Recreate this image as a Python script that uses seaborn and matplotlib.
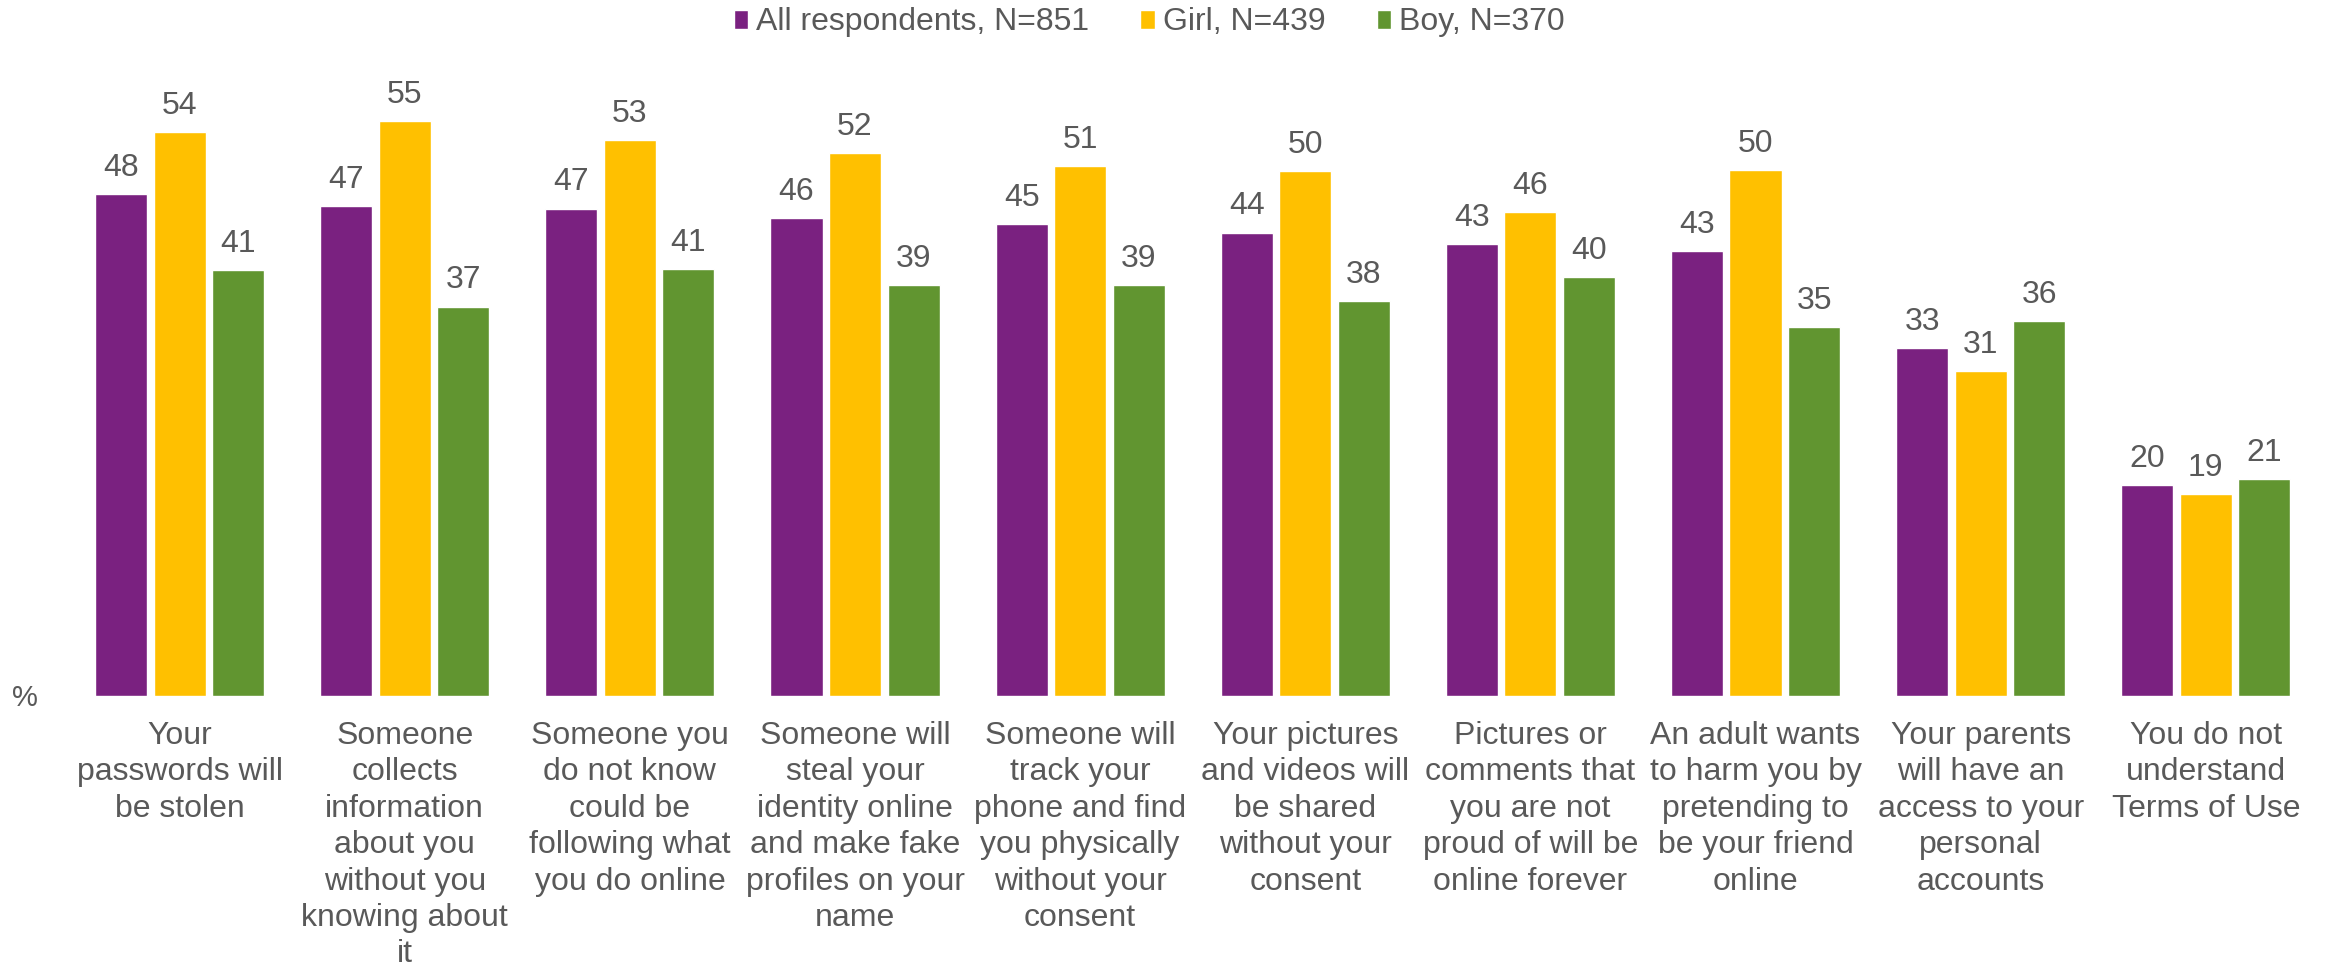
import matplotlib
matplotlib.use("Agg")
import matplotlib.pyplot as plt
import seaborn as sns
import pandas as pd

categories = [
    "Your\npasswords will\nbe stolen",
    "Someone\ncollects\ninformation\nabout you\nwithout you\nknowing about\nit",
    "Someone you\ndo not know\ncould be\nfollowing what\nyou do online",
    "Someone will\nsteal your\nidentity online\nand make fake\nprofiles on your\nname",
    "Someone will\ntrack your\nphone and find\nyou physically\nwithout your\nconsent",
    "Your pictures\nand videos will\nbe shared\nwithout your\nconsent",
    "Pictures or\ncomments that\nyou are not\nproud of will be\nonline forever",
    "An adult wants\nto harm you by\npretending to\nbe your friend\nonline",
    "Your parents\nwill have an\naccess to your\npersonal\naccounts",
    "You do not\nunderstand\nTerms of Use",
]
series_names = ["All respondents, N=851", "Girl, N=439", "Boy, N=370"]
all_resp = [48.1, 46.9, 46.7, 45.8, 45.2, 44.4, 43.3, 42.6, 33.3, 20.2]
girl = [54.0, 55.1, 53.3, 52.0, 50.8, 50.3, 46.4, 50.4, 31.1, 19.3]
boy = [40.8, 37.3, 40.9, 39.4, 39.4, 37.8, 40.1, 35.3, 35.9, 20.8]
colors = ["#7A2180", "#FFC000", "#619530"]
text_color = "#595959"

sns.set_theme(style="white")
plt.rcParams['font.family'] = ['Liberation Sans', 'DejaVu Sans']

df = pd.DataFrame({
    "category": categories * 3,
    "series": [series_names[0]] * 10 + [series_names[1]] * 10 + [series_names[2]] * 10,
    "value": all_resp + girl + boy,
})

fig = plt.figure(figsize=(23.3, 9.69), dpi=100)
ax = fig.add_axes([0.0288, 0.282, 0.9662, 0.646])
sns.barplot(data=df, x="category", y="value", hue="series", hue_order=series_names,
            palette=colors, width=0.78, gap=0.11, ax=ax, errorbar=None,
            saturation=1, order=categories)

for c in ax.containers:
    ax.bar_label(c, fmt="%.0f", padding=8, fontsize=23, color=text_color)

ax.set_ylim(0, 60)
ax.set_xlim(-0.5, 9.5)
ax.set_yticks([])
ax.set_xlabel("")
ax.set_ylabel("")
for s in ax.spines.values():
    s.set_visible(False)
ax.set_xticks(range(len(categories)))
ax.set_xticklabels(categories, fontsize=23, color=text_color, linespacing=1.28)
ax.tick_params(axis="x", length=0, pad=18)

sns.move_legend(ax, "upper center", bbox_to_anchor=(0.4932, 1.022),
                bbox_transform=fig.transFigure, ncol=3, frameon=False, title=None,
                fontsize=23, labelcolor=text_color, handlelength=0.45,
                handleheight=0.55, handletextpad=0.25, columnspacing=1.6)

fig.text(25 / 2330, 1 - 698 / 969, "%", ha="center", va="center",
         fontsize=21, color=text_color)

fig.savefig("out.png", dpi=100)
